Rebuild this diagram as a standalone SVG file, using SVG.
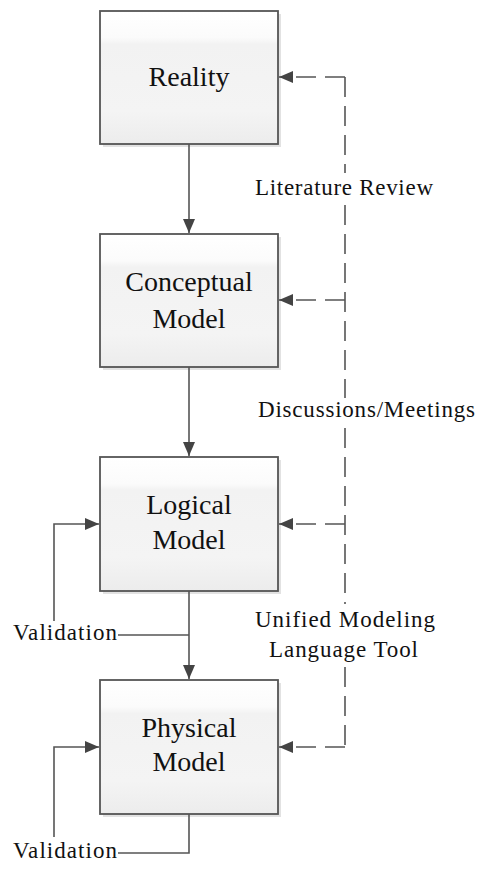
<svg xmlns="http://www.w3.org/2000/svg" width="478" height="869" viewBox="0 0 478 869">
<defs>
<style>
.box{fill:url(#g);stroke:#555;stroke-width:1.8}
.shadow{fill:#e2e2e2}
.nt{font-family:"Liberation Serif","Times New Roman",serif;font-size:28px;fill:#111;text-anchor:middle}
.lt{font-family:"Liberation Serif","Times New Roman",serif;font-size:23px;fill:#111}
.ln{fill:none;stroke:#555;stroke-width:1.6}
.dl{fill:none;stroke:#555;stroke-width:1.6;stroke-dasharray:20 9}
</style>
<linearGradient id="g" x1="0" y1="0" x2="0" y2="1">
<stop offset="0" stop-color="#ffffff"/>
<stop offset="0.2" stop-color="#fbfbfb"/>
<stop offset="0.25" stop-color="#f2f2f2"/>
<stop offset="0.75" stop-color="#f4f4f4"/>
<stop offset="1" stop-color="#ececec"/>
</linearGradient>
<marker id="ah" viewBox="0 0 14 12" refX="14" refY="6" markerWidth="14" markerHeight="12" markerUnits="userSpaceOnUse" orient="auto">
<path d="M0,0 L14,6 L0,12 z" fill="#444"/>
</marker>
</defs>

<g id="reality">
<rect class="shadow" x="103" y="14" width="178" height="133"/>
<rect class="box" x="100" y="11" width="178" height="133"/>
<text class="nt" x="189" y="86">Reality</text>
</g>

<g id="conceptual">
<rect class="shadow" x="103" y="237" width="178" height="133"/>
<rect class="box" x="100" y="234" width="178" height="133"/>
<text class="nt" x="189" y="291">Conceptual</text>
<text class="nt" x="189" y="328">Model</text>
</g>

<g id="logical">
<rect class="shadow" x="103" y="460" width="178" height="134"/>
<rect class="box" x="100" y="457" width="178" height="134"/>
<text class="nt" x="189" y="514">Logical</text>
<text class="nt" x="189" y="549">Model</text>
</g>

<g id="physical">
<rect class="shadow" x="103" y="683" width="178" height="134"/>
<rect class="box" x="100" y="680" width="178" height="134"/>
<text class="nt" x="189" y="737">Physical</text>
<text class="nt" x="189" y="771">Model</text>
</g>

<g id="connectors">
<line class="ln" x1="189" y1="144" x2="189" y2="233" marker-end="url(#ah)"/>
<line class="ln" x1="189" y1="367" x2="189" y2="456" marker-end="url(#ah)"/>
<line class="ln" x1="189" y1="591" x2="189" y2="679" marker-end="url(#ah)"/>
<polyline class="ln" points="118,635 189,635"/>
<polyline class="ln" points="54,621 54,524 99,524" marker-end="url(#ah)"/>
<polyline class="ln" points="118,853 189,853 189,814"/>
<polyline class="ln" points="54,837 54,747 99,747" marker-end="url(#ah)"/>
<path class="dl" d="M345,77 L345,173 M345,205 L345,398 M345,428 L345,604 M345,667 L345,747"/>
<line class="dl" x1="345" y1="77" x2="279" y2="77" marker-end="url(#ah)"/>
<line class="dl" x1="345" y1="300" x2="279" y2="300" marker-end="url(#ah)"/>
<line class="dl" x1="345" y1="524" x2="279" y2="524" marker-end="url(#ah)"/>
<line class="dl" x1="345" y1="747" x2="279" y2="747" marker-end="url(#ah)"/>
</g>

<g id="labels">
<text class="lt" x="255" y="195" textLength="178" lengthAdjust="spacing">Literature Review</text>
<text class="lt" x="258" y="417" textLength="217" lengthAdjust="spacing">Discussions/Meetings</text>
<text class="lt" x="255" y="627" textLength="180" lengthAdjust="spacing">Unified Modeling</text>
<text class="lt" x="269" y="657" textLength="149" lengthAdjust="spacing">Language Tool</text>
<text class="lt" x="13" y="640" textLength="104" lengthAdjust="spacing">Validation</text>
<text class="lt" x="13" y="858" textLength="104" lengthAdjust="spacing">Validation</text>
</g>
</svg>
